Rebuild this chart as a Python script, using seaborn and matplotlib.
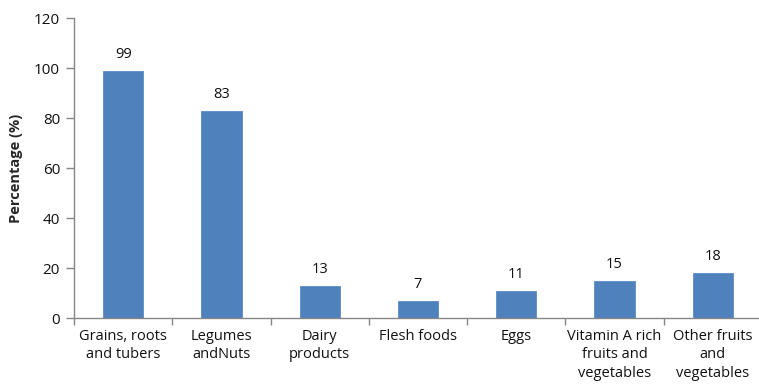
import pandas as pd
import seaborn as sns
import matplotlib.pyplot as plt
from matplotlib.ticker import FixedLocator

categories = ['Grains, roots\nand tubers', 'Legumes\nandNuts', 'Dairy\nproducts',
              'Flesh foods', 'Eggs', 'Vitamin A rich\nfruits and\nvegetables',
              'Other fruits\nand\nvegetables']
values = [99, 83, 13, 7, 11, 15, 18]

df = pd.DataFrame({'group': categories, 'pct': values})

sns.set_style('white')
plt.rcParams['font.family'] = ['Open Sans', 'DejaVu Sans']

fig = plt.figure(figsize=(7.59, 3.90), dpi=100)
ax = fig.add_axes([74 / 759, 72 / 390, 688 / 759, 300 / 390])

sns.barplot(data=df, x='group', y='pct', color='#4F81BD', width=0.41,
            edgecolor='#5b8cc6', linewidth=0.6, saturation=1, ax=ax)

for i, v in enumerate(values):
    ax.text(i, v + 3.5, str(v), ha='center', va='bottom', fontsize=10.5, color='#111111')

ax.set_ylim(0, 120)
ax.set_xlim(-0.5, 6.5)
ax.set_yticks(range(0, 121, 20))
ax.set_xlabel('')
ax.set_ylabel('Percentage (%)', fontsize=10.5, fontweight='bold', labelpad=8)

for s in ['top', 'right']:
    ax.spines[s].set_visible(False)
for s in ['left', 'bottom']:
    ax.spines[s].set_color('#868686')
    ax.spines[s].set_linewidth(1)

ax.tick_params(axis='y', direction='out', length=6, width=1, color='#868686',
               labelsize=11, labelcolor='#111111', pad=4, left=True)
ax.tick_params(axis='x', which='major', length=0, labelsize=10.5, labelcolor='#111111', pad=8)
ax.xaxis.set_minor_locator(FixedLocator([i - 0.5 for i in range(8)]))
ax.tick_params(axis='x', which='minor', direction='out', length=5, width=1,
               color='#868686', bottom=True)
for lbl in ax.get_xticklabels():
    lbl.set_linespacing(1.3)
    lbl.set_va('top')

fig.savefig('out.png', dpi=100)
